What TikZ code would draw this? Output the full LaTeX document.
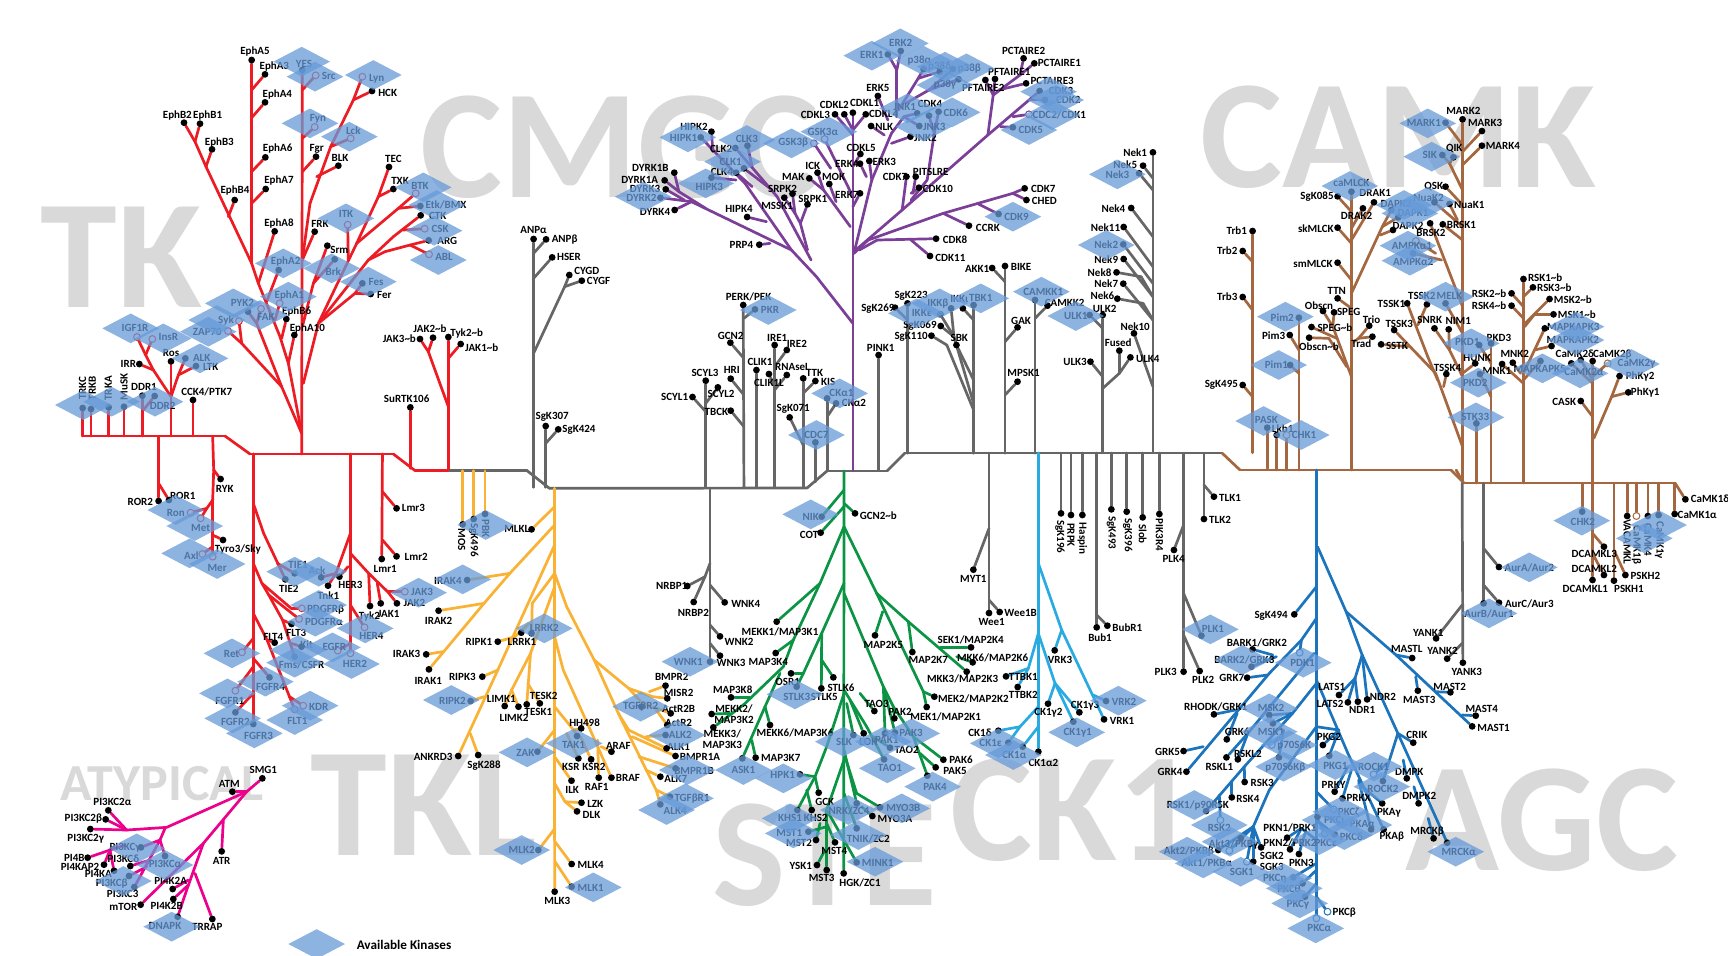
\documentclass[tikz,border=0pt]{standalone}
\usepackage{fontspec}
\setmainfont{Carlito}
\usetikzlibrary{shapes.geometric}
\definecolor{ctk}{HTML}{ED1C24}\definecolor{cgr}{HTML}{666666}\definecolor{cpu}{HTML}{7B3F98}
\definecolor{cbr}{HTML}{A5673F}\definecolor{cye}{HTML}{F9B233}\definecolor{cgn}{HTML}{0B9444}
\definecolor{cck}{HTML}{29ABE2}\definecolor{cag}{HTML}{1C75BC}\definecolor{cat}{HTML}{EC008C}
\definecolor{cwm}{HTML}{D9D9D9}\definecolor{cdi}{HTML}{679AD8}
\def\curcol{ctk}
\def\pno{1}
\tikzset{
 crop/.style n args={4}{shift={(#1,#2)},x=#3pt,y=-#4pt},
 kghost/.style={circle,inner sep=0pt,minimum size=3.4pt},
 kdot/.style={kghost,fill=black},
 kring/.style={kghost,fill=white,draw=\curcol,line width=.5pt},
 klab/.style={inner sep=0pt,align=center,font=\bfseries\fontsize{5.5}{5.6}\selectfont},
 avail/.style={diamond,fill=cdi,fill opacity=.75,inner sep=0pt,aspect=1.9,minimum width=28.5pt,minimum height=15pt},
 br/.style={draw=\curcol,line width=1.35pt,line cap=round,line join=round},
 wmark/.style={inner sep=0pt,anchor=base west,text=cwm,font=\bfseries\fontsize{77.5}{80}\selectfont},
}
\newcommand\gen[8]{\ifnum\pno=1 \node[kghost] (#2) at (#3,#4) {};\else\ifnum\pno=2 \node[#1] (#2) at (#3,#4) {};\node[klab,rotate=#7] (#2L) at (#5,#6) {#8};\fi\fi}
\newcommand\kin[6]{\gen{kdot}{#1}{#2}{#3}{#4}{#5}{0}{#6}}
\newcommand\kopn[6]{\gen{kring}{#1}{#2}{#3}{#4}{#5}{0}{#6}}
\newcommand\dia[3]{\ifnum\pno=3 \node[avail] (#1) at (#2,#3) {};\fi}
\newcommand\kav[8]{\kin{#1}{#2}{#3}{#6}{#7}{#8}\dia{#1D}{#4}{#5}}
\newcommand\kop[8]{\kopn{#1}{#2}{#3}{#6}{#7}{#8}\dia{#1D}{#4}{#5}}
\newcommand\krot[7]{\gen{kdot}{#1}{#2}{#3}{#4}{#5}{#6}{#7}}
\newcommand\krop[7]{\gen{kring}{#1}{#2}{#3}{#4}{#5}{#6}{#7}}
\newcommand\lnk[2]{\ifnum\pno=1 \draw[br] (#1) -- (#2);\fi}
\newcommand\jr[3]{\ifnum\pno=1 \coordinate (#1) at (#2,#3);\fi}
\newcommand\bto[3]{\jr{#1a}{#2}{#3}\lnk{#1}{#1a}}
\newcommand\jn[4]{\jr{#1}{#2}{#3}\lnk{#4}{#1}}
\newcommand\tl{\textasciitilde}
\newcommand\alldata{%
\begin{scope}[crop={40}{30}{.16667}{.16667}]
\jr{ra}{128}{1218}\jn{rb}{555}{1218}{ra}\jn{rc}{630}{1272}{rb}\jn{rd}{1060}{1272}{rc}
\end{scope}
\begin{scope}[crop={150}{440}{.17218}{.16667}]
\jn{rf}{770}{92}{rd}\jn{rg}{868}{92}{rf}
\def\curcol{cgr}\jn{ga}{1095}{92}{rg}\jn{gb}{1160}{145}{ga}
\end{scope}
\begingroup
\def\curcol{cgr}
\jn{gc}{807}{488}{gb}\jn{gd}{827}{471}{gc}\jn{ge}{887}{471}{gd}\jn{gf}{905}{453}{ge}\jn{gg}{1222}{453}{gf}
\def\curcol{cbr}
\jn{ba}{1240}{470}{gg}\jn{bb}{1451}{470}{ba}\jn{bc}{1464}{483}{bb}\jn{bd}{1675}{483}{bc}
\endgroup
\def\curcol{ctk}
\begin{scope}[crop={40}{30}{.16667}{.16667}]
\jr{t0}{785}{1272}
\kin{EphAv}{635}{90}{645}{65}{EphA5}
\kin{EphAc}{675}{133}{703}{108}{EphA3}\kin{EphAd}{675}{217}{712}{192}{EphA4}
\kin{EphBb}{432}{278}{412}{257}{EphB2}\kin{EphBa}{480}{281}{503}{257}{EphB1}\kin{EphBc}{516}{358}{538}{337}{EphB3}
\kin{EphAf}{676}{382}{713}{354}{EphA6}\kin{EphAg}{677}{477}{717}{452}{EphA7}\kin{EphBd}{584}{510}{585}{482}{EphB4}
\kin{EphAh}{704}{604}{717}{580}{EphA8}
\kav{YES}{787}{120}{785}{95}{792}{102}{YES}
\kop{Src}{827}{136}{825}{140}{866}{137}{Src}
\kop{Lyn}{967}{140}{1000}{135}{1010}{145}{Lyn}
\kin{HCK}{996}{183}{1043}{188}{HCK}
\kop{Fyn}{824}{291}{810}{280}{834}{265}{Fyn}
\kop{Lck}{932}{325}{928}{320}{940}{303}{Lck}
\kin{Fgr}{828}{380}{830}{356}{Fgr}\kin{BLK}{895}{407}{900}{385}{BLK}\kin{TEC}{1047}{411}{1060}{388}{TEC}\kin{TXK}{1060}{477}{1080}{452}{TXK}
\kop{BTK}{1127}{490}{1150}{472}{1140}{468}{BTK}
\kav{Etk}{1141}{528}{1190}{525}{1218}{524}{Etk/BMX}
\kin{CTK}{1142}{556}{1193}{559}{CTK}
\kop{CSK}{1154}{596}{1182}{602}{1200}{596}{CSK}
\kin{ARG}{1166}{631}{1222}{632}{ARG}
\kop{ABL}{1167}{673}{1195}{690}{1212}{681}{ABL}
\kop{ITK}{923}{584}{918}{565}{918}{552}{ITK}
\kin{FRK}{824}{605}{840}{583}{FRK}\kin{Srm}{862}{647}{898}{660}{Srm}
\kav{Brk}{884}{688}{875}{715}{880}{724}{Brk}
\kav{EphAb}{716}{720}{730}{700}{737}{695}{EphA2}
\kav{Fes}{967}{760}{985}{755}{1008}{757}{Fes}
\kin{Fer}{992}{792}{1033}{796}{Fer}
\kop{EphAa}{719}{820}{745}{800}{748}{797}{EphA1}
\kav{PYKb}{624}{845}{580}{820}{607}{820}{PYK2}
\kop{FAK}{663}{836}{660}{855}{678}{862}{FAK}
\kin{EphBf}{739}{867}{770}{843}{EphB6}\kin{EphAj}{763}{915}{802}{895}{EphA10}
\kop{Syk}{597}{873}{530}{870}{558}{870}{Syk}
\kop{ZAP}{564}{903}{505}{905}{502}{907}{ZAP70}
\kop{IGFR}{291}{921}{272}{895}{285}{895}{IGF1R}
\kop{InsR}{337}{927}{370}{925}{385}{921}{InsR}
\kin{IRR}{298}{1002}{265}{1003}{IRR}\kin{Ros}{393}{994}{393}{970}{Ros}
\kav{ALK}{436}{985}{480}{985}{485}{983}{ALK}
\kin{LTK}{468}{1008}{512}{1010}{LTK}\kin{DDRa}{307}{1097}{312}{1072}{DDR1}
\kav{DDRb}{344}{1098}{345}{1115}{368}{1128}{DDR2}
\kin{CCK}{459}{1110}{500}{1087}{CCK4/PTK7}
\krot{TRKC}{128}{1134}{128}{1075}{90}{TRKC}\krot{TRKB}{153}{1137}{157}{1075}{90}{TRKB}
\krot{TRKA}{206}{1132}{205}{1075}{90}{TRKA}\krot{MuSK}{252}{1130}{252}{1070}{90}{MuSK}
\dia{dTRKa}{130}{1125}\dia{dTRKb}{215}{1115}
\kin{SuRTK}{1111}{1132}{1100}{1105}{SuRTK106}
\kin{JAKcb}{1140}{927}{1078}{925}{JAK3\tl b}\kin{JAKbb}{1179}{923}{1170}{897}{JAK2\tl b}
\kin{Tykb}{1225}{921}{1280}{911}{Tyk2\tl b}\kin{JAKab}{1262}{942}{1325}{952}{JAK1\tl b}
\lnk{YES}{t0}\bto{Src}{787}{180}\bto{Fyn}{787}{325}\bto{Fgr}{787}{425}\bto{FRK}{787}{690}
\jr{t2}{787}{690}\jn{t3}{810}{520}{t2}\jn{t4}{872}{350}{t3}\jn{t5}{940}{210}{t4}\lnk{Lyn}{t5}\lnk{HCK}{t5}\bto{Lck}{872}{350}\bto{BLK}{830}{440}
\jr{t6}{787}{890}\jn{t7}{820}{760}{t6}\lnk{Srm}{t7}\lnk{Brk}{t7}
\jr{t8}{790}{1060}\jn{t9}{835}{880}{t8}\jn{t10}{950}{640}{t9}\jn{t11}{1015}{500}{t10}\lnk{TEC}{t11}\lnk{TXK}{t11}\bto{ITK}{925}{690}
\jn{t12}{1075}{535}{t10}\lnk{BTK}{t12}\lnk{Etk}{t12}
\jn{t13}{985}{690}{t9}\jn{t14}{1060}{620}{t13}\lnk{CTK}{t14}\bto{CSK}{1090}{600}
\jn{t15}{1035}{665}{t13}\jn{t16}{1110}{645}{t15}\lnk{ARG}{t16}\lnk{ABL}{t16}
\jn{t17}{945}{790}{t9}\lnk{Fes}{t17}\lnk{Fer}{t17}
\jr{t20}{785}{1210}\jn{t21}{745}{1000}{t20}\jn{t22}{720}{920}{t21}\jn{t23}{655}{760}{t22}\jn{t24}{635}{700}{t23}\jn{t25}{498}{410}{t24}
\lnk{EphAv}{t24}\bto{EphAc}{635}{180}\bto{EphAd}{635}{263}\bto{EphAf}{635}{425}\bto{EphAg}{635}{520}
\jn{t26}{465}{335}{t25}\lnk{EphBb}{t26}\lnk{EphBa}{t26}\lnk{EphBc}{t25}\bto{EphBd}{565}{560}
\lnk{EphAh}{t23}\bto{EphAb}{680}{815}\bto{EphAa}{705}{870}\bto{EphBf}{725}{925}\lnk{EphAj}{t21}
\jn{t30}{725}{1070}{t20}\jn{t31}{650}{880}{t30}\lnk{PYKb}{t31}\lnk{FAK}{t31}\jn{t32}{605}{940}{t30}\lnk{ZAP}{t32}\lnk{Syk}{t32}
\jr{t40}{393}{1218}\jn{t41}{393}{1100}{t40}\lnk{Ros}{t41}\jn{t42}{340}{1020}{t41}\jn{t43}{317}{975}{t42}\lnk{IGFR}{t43}\lnk{InsR}{t43}\lnk{IRR}{t42}
\jn{t44}{415}{1035}{t41}\lnk{ALK}{t44}\lnk{LTK}{t44}
\bto{TRKC}{128}{1218}\bto{TRKB}{153}{1218}\bto{TRKA}{206}{1218}\bto{MuSK}{252}{1218}\bto{DDRa}{307}{1218}\bto{DDRb}{310}{1140}\bto{CCK}{459}{1218}
\bto{SuRTK}{1111}{1315}
\jr{t50}{1225}{1318}\lnk{Tykb}{t50}\bto{JAKab}{1225}{985}\jn{t51}{1225}{1130}{t50}\jn{t52}{1165}{965}{t51}\lnk{JAKcb}{t52}\lnk{JAKbb}{t52}
\end{scope}
\begin{scope}[crop={150}{440}{.17218}{.16667}]
\kin{RORb}{25}{183}{-28}{185}{ROR2}\kin{RORa}{55}{180}{95}{167}{ROR1}\kin{RYK}{205}{117}{217}{148}{RYK}
\kop{Ron}{118}{218}{75}{210}{75}{220}{Ron}\kop{Met}{147}{235}{130}{258}{147}{265}{Met}
\kin{Tyro}{212}{300}{255}{327}{Tyro3/Sky}
\kop{Axl}{152}{342}{115}{340}{120}{347}{Axl}\kop{Mer}{182}{350}{195}{372}{195}{385}{Mer}
\jr{u0}{25}{-10}\jn{u1}{25}{130}{u0}\lnk{RORb}{u1}\lnk{RORa}{u1}
\jr{u2}{182}{-10}\jn{u3}{185}{90}{u2}\lnk{RYK}{u3}\jn{u4}{182}{180}{u3}\jn{u5}{165}{205}{u4}\lnk{Ron}{u5}\lnk{Met}{u5}\jn{u6}{182}{285}{u4}\lnk{Tyro}{u6}\jn{u7}{182}{320}{u6}\lnk{Axl}{u7}\lnk{Mer}{u7}
\kin{TIEb}{393}{418}{403}{447}{TIE2}\kav{TIEa}{420}{400}{420}{395}{430}{375}{TIE1}
\kav{Ack}{497}{412}{490}{395}{485}{392}{Ack}\kin{HERc}{550}{410}{582}{436}{HER3}\kin{Tnk}{517}{437}{518}{467}{Tnk1}
\kop{HERb}{582}{640}{585}{672}{595}{672}{HER2}\kop{EGFR}{545}{632}{530}{622}{535}{622}{EGFR}\kop{HERd}{623}{562}{625}{565}{643}{587}{HER4}
\kop{JAKc}{740}{455}{780}{458}{790}{455}{JAK3}\kin{JAKb}{717}{490}{768}{490}{JAK2}\kin{JAKa}{670}{490}{693}{522}{JAK1}\kin{Tykt}{639}{498}{637}{528}{Tyk2}
\kin{Lmra}{673}{357}{683}{387}{Lmr1}\kin{Lmrc}{716}{205}{765}{205}{Lmr3}\kin{Lmrb}{716}{349}{773}{352}{Lmr2}
\kop{Ret}{267}{637}{238}{640}{237}{643}{Ret}
\kop{FGFRa}{248}{752}{225}{760}{232}{782}{FGFR1}\kav{FGFRb}{248}{817}{240}{835}{248}{847}{FGFR2}
\kav{FGFRc}{300}{852}{303}{880}{315}{887}{FGFR3}\kav{FGFRd}{347}{712}{335}{725}{350}{742}{FGFR4}
\kop{PDGb}{441}{505}{490}{495}{510}{510}{PDGFRβ}\kop{PDGa}{433}{537}{480}{545}{505}{547}{PDGFRα}
\kin{FLTc}{411}{552}{425}{580}{FLT3}\kav{Kit}{440}{620}{430}{630}{455}{615}{Kit}\kav{Fms}{420}{650}{420}{668}{440}{674}{Fms/CSFR}
\kin{FLTd}{362}{608}{358}{590}{FLT4}\kop{KDR}{445}{797}{465}{797}{490}{802}{KDR}\kop{FLTa}{420}{808}{420}{840}{428}{842}{FLT1}
\jr{u10}{300}{42}\lnk{FGFRc}{u10}
\jn{u11}{300}{190}{u10}\jn{u12}{330}{280}{u11}\lnk{TIEb}{u12}\bto{TIEa}{370}{370}
\jr{u13}{582}{42}\lnk{HERb}{u13}\jr{u14}{582}{280}\jn{u15}{540}{400}{u14}\lnk{Tnk}{u15}\lnk{Ack}{u15}\bto{HERc}{575}{380}
\jr{u16}{582}{340}\jn{u17}{635}{400}{u16}\jn{u18}{690}{455}{u17}\lnk{JAKc}{u18}\lnk{JAKb}{u18}\bto{JAKa}{660}{430}\lnk{Tykt}{u17}
\bto{HERd}{582}{495}\bto{EGFR}{582}{610}
\jr{u19}{675}{42}\lnk{Lmra}{u19}\bto{Lmrc}{675}{155}\bto{Lmrb}{675}{300}
\bto{Ret}{300}{595}\bto{FGFRa}{300}{680}\bto{FGFRb}{300}{760}\bto{FGFRd}{300}{655}
\jr{u20}{300}{370}\jn{u21}{325}{430}{u20}\jn{u22}{410}{505}{u21}\lnk{PDGb}{u22}\jn{u23}{345}{465}{u21}\lnk{PDGa}{u23}
\jn{u24}{385}{540}{u23}\lnk{FLTc}{u24}\jn{u25}{420}{650}{u24}\bto{Kit}{410}{610}\lnk{Fms}{u25}
\jr{u26}{300}{520}\jn{u27}{340}{600}{u26}\jn{u28}{405}{770}{u27}\lnk{KDR}{u28}\lnk{FLTa}{u28}\lnk{FLTd}{u27}
\def\curcol{cye}
\krot{MOS}{908}{253}{905}{300}{-90}{MOS}\krot{SgKhg}{940}{237}{940}{300}{-90}{SgK496}\krot{PBK}{973}{222}{975}{265}{-90}{PBK}\dia{dPBK}{975}{255}
\bto{MOS}{908}{92}\bto{SgKhg}{940}{92}\bto{PBK}{973}{92}
\kin{MLKL}{1108}{268}{1065}{268}{MLKL}
\kav{IRAKd}{921}{420}{908}{418}{865}{422}{IRAK4}\kin{IRAKb}{838}{512}{838}{542}{IRAK2}\kin{IRAKc}{802}{643}{745}{643}{IRAK3}\kin{IRAKa}{810}{688}{808}{722}{IRAK1}
\kin{ANK}{895}{948}{822}{950}{ANKRD3}\kin{SgKbe}{953}{945}{970}{977}{SgK288}\kin{RIPc}{965}{710}{907}{710}{RIPK3}
\kav{RIPb}{931}{783}{875}{780}{878}{783}{RIPK2}\kin{RIPa}{1010}{605}{955}{605}{RIPK1}\kin{LRRa}{1078}{578}{1080}{607}{LRRK1}
\kav{LRRb}{1108}{580}{1145}{565}{1145}{565}{LRRK2}
\kin{LIMa}{1030}{798}{1020}{778}{LIMK1}\kin{LIMb}{1070}{800}{1057}{833}{LIMK2}\kin{TESb}{1132}{790}{1143}{767}{TESK2}\kin{TESa}{1094}{793}{1128}{815}{TESK1}
\kin{BMPRb}{1497}{737}{1515}{711}{BMPR2}\kin{MISR}{1502}{775}{1535}{760}{MISR2}\kav{TGFb}{1427}{800}{1425}{800}{1425}{800}{TGFβR2}
\kin{ActB}{1512}{820}{1535}{808}{ActR2B}\kin{ActR}{1502}{855}{1535}{848}{ActR2}\kav{ALKb}{1497}{885}{1530}{885}{1540}{885}{ALK2}
\kin{ALKa}{1500}{925}{1535}{922}{ALK1}\kin{BMPa}{1526}{948}{1597}{951}{BMPR1A}\kav{BMPc}{1526}{985}{1560}{990}{1580}{994}{BMPR1B}
\kin{ALKg}{1482}{1010}{1527}{1018}{ALK7}\kav{TGFa}{1510}{1070}{1555}{1075}{1574}{1077}{TGFβR1}\kav{ALKd}{1482}{1093}{1500}{1110}{1525}{1112}{ALK4}
\kin{HH}{1252}{865}{1262}{847}{HH498}\kin{ARAF}{1340}{935}{1360}{918}{ARAF}\kin{BRAF}{1340}{1013}{1388}{1015}{BRAF}\kin{RAF}{1303}{1013}{1297}{1040}{RAF1}
\kin{KSR}{1244}{955}{1222}{982}{KSR}\kin{KSRb}{1281}{958}{1289}{982}{KSR2}\kav{TAK}{1240}{888}{1232}{910}{1230}{915}{TAK1}
\kav{ZAK}{1125}{935}{1095}{937}{1090}{938}{ZAK}\kin{ILK}{1224}{1022}{1226}{1050}{ILK}\kin{LZK}{1253}{1088}{1293}{1092}{LZK}\kin{DLK}{1240}{1114}{1282}{1124}{DLK}
\jr{y0}{1175}{145}\jn{y1}{1175}{1200}{y0}
\bto{MLKL}{1175}{200}
\jr{y2}{1175}{255}\jn{y3}{1045}{400}{y2}\jn{y4}{970}{490}{y3}\lnk{IRAKa}{y4}\lnk{IRAKd}{y3}\lnk{IRAKb}{y4}\bto{IRAKc}{850}{635}
\jr{y5}{1175}{315}\jn{y6}{1010}{690}{y5}\lnk{ANK}{y6}\bto{SgKbe}{930}{880}\lnk{RIPc}{y6}\bto{RIPb}{970}{770}
\jr{y7}{1175}{400}\jn{y8}{1110}{490}{y7}\lnk{LRRb}{y8}\jr{y9}{1100}{550}\jn{y10}{1060}{590}{y9}\lnk{RIPa}{y10}\bto{LRRa}{1095}{555}
\jr{y11}{1175}{440}\jn{y12}{1105}{640}{y11}\lnk{TESa}{y12}\bto{TESb}{1097}{730}\jn{y13}{1050}{750}{y12}\lnk{LIMa}{y13}\lnk{LIMb}{y13}
\jn{y14}{1210}{500}{y7}\jn{y15}{1290}{660}{y14}\jn{y16}{1390}{745}{y15}\jn{y17}{1460}{770}{y16}\lnk{MISR}{y17}\bto{BMPRb}{1450}{755}
\jn{y18}{1430}{790}{y16}\lnk{ActB}{y18}\lnk{TGFb}{y18}\bto{ActR}{1470}{810}
\jn{y19}{1360}{820}{y15}\jn{y20}{1470}{1050}{y19}\lnk{ALKd}{y20}\lnk{TGFa}{y20}\bto{ALKg}{1440}{990}
\jn{y21}{1390}{870}{y19}\lnk{ALKa}{y21}\bto{ALKb}{1440}{890}\jr{y22}{1400}{890}\lnk{BMPa}{y22}\bto{BMPc}{1420}{950}
\jr{y30}{1175}{590}\jn{y31}{1200}{690}{y30}\jn{y32}{1270}{850}{y31}\lnk{BRAF}{y32}\bto{RAF}{1300}{900}\bto{ARAF}{1310}{920}
\jr{y33}{1175}{800}\jn{y34}{1230}{870}{y33}\lnk{TAK}{y34}\lnk{HH}{y34}\bto{ZAK}{1175}{870}\bto{KSR}{1210}{880}\bto{KSRb}{1250}{890}
\bto{ILK}{1175}{950}\jr{y35}{1175}{1030}\jn{y36}{1205}{1085}{y35}\lnk{LZK}{y36}\lnk{DLK}{y36}
\end{scope}
\begin{scope}[crop={480}{800}{.16667}{.16667}]
\def\curcol{cye}
\kin{MLKc}{224}{275}{232}{303}{MLK3}\kav{MLKb}{175}{150}{125}{150}{125}{150}{MLK2}
\kin{MLKd}{275}{192}{332}{195}{MLK4}\kav{MLKa}{275}{260}{340}{262}{332}{263}{MLK1}
\lnk{MLKc}{y1}\bto{MLKb}{225}{85}\bto{MLKd}{225}{125}\bto{MLKa}{225}{185}
\end{scope}
\begin{scope}[crop={520}{20}{.17857}{.16667}]
\def\curcol{cpu}
\kav{ERKa}{1030}{103}{985}{107}{985}{104}{ERK1}\kav{ERKb}{1066}{93}{1065}{70}{1066}{69}{ERK2}
\kav{pa}{1130}{147}{1130}{122}{1118}{122}{p38α}\kav{pd}{1175}{155}{1190}{140}{1175}{140}{p38δ}\kav{pb}{1212}{147}{1250}{145}{1258}{145}{p38β}\kav{pg}{1228}{178}{1190}{195}{1190}{195}{p38γ}
\kin{ERKe}{1002}{228}{1002}{205}{ERK5}
\kin{CDKLb}{908}{283}{880}{255}{CDKL2}\kin{CDKLc}{882}{283}{827}{285}{CDKL3}\kin{CDKLa}{932}{278}{965}{250}{CDKL1}\kin{CDKLd}{968}{283}{1018}{283}{CDKL4}
\kin{NLK}{983}{318}{1020}{320}{NLK}
\kav{JNKa}{1112}{280}{1085}{265}{1077}{262}{JNK1}\kin{CDKd}{1145}{287}{1148}{253}{CDK4}\kav{CDKf}{1172}{275}{1210}{277}{1220}{277}{CDK6}
\kav{JNKc}{1118}{318}{1130}{320}{1160}{320}{JNK3}\kin{JNKb}{1093}{350}{1135}{355}{JNK2}
\kin{PCTb}{1410}{115}{1410}{92}{PCTAIRE2}\kin{PCTa}{1440}{130}{1510}{130}{PCTAIRE1}\kin{PFTa}{1330}{177}{1370}{157}{PFTAIRE1}\kin{PFTb}{1303}{180}{1297}{205}{PFTAIRE2}
\kin{PCTc}{1417}{190}{1490}{183}{PCTAIRE3}\kav{CDKc}{1455}{213}{1480}{215}{1515}{213}{CDK3}\kav{CDKb}{1470}{240}{1500}{240}{1535}{241}{CDK2}
\kop{CDCb}{1425}{283}{1490}{285}{1510}{285}{CDC2/CDK1}\kav{CDKe}{1380}{322}{1425}{330}{1430}{330}{CDK5}
\kin{HIPb}{536}{335}{487}{322}{HIPK2}\kav{HIPa}{506}{352}{470}{352}{458}{354}{HIPK1}
\kav{CLKc}{637}{377}{635}{360}{635}{357}{CLK3}\kin{CLKb}{603}{384}{563}{388}{CLK2}\kav{CLKa}{627}{445}{595}{425}{590}{425}{CLK1}\kin{CLKd}{605}{458}{565}{456}{CLK4}
\kav{HIPc}{536}{473}{520}{490}{530}{500}{HIPK3}
\kop{GSKb}{823}{370}{760}{370}{765}{368}{GSK3β}\kop{GSKa}{853}{357}{865}{335}{848}{335}{GSK3α}
\kin{DYRb}{432}{458}{365}{443}{DYRK1B}\kin{DYRa}{405}{481}{335}{481}{DYRK1A}\kin{DYRc}{408}{508}{350}{507}{DYRK3}\kav{DYRd}{393}{533}{345}{530}{340}{534}{DYRK2}\kin{DYRe}{433}{570}{378}{575}{DYRK4}
\kin{CDKLe}{953}{402}{955}{384}{CDKL5}\kin{ERKd}{952}{431}{915}{432}{ERK4}\kin{ERKc}{978}{423}{1020}{427}{ERK3}\kin{ICK}{833}{458}{820}{437}{ICK}\kin{MAK}{810}{475}{765}{472}{MAK}\kin{MOK}{866}{492}{878}{472}{MOK}
\kin{CDKq}{1082}{470}{1050}{472}{CDK7}\kin{PITS}{1108}{470}{1150}{456}{PITSLRE}\kin{CDKj}{1117}{503}{1170}{507}{CDK10}\kin{ERKg}{952}{520}{915}{525}{ERK7}
\kin{SRPb}{740}{533}{735}{507}{SRPK2}\kin{MSSK}{763}{521}{720}{558}{MSSK1}\kin{SRPa}{805}{553}{820}{537}{SRPK1}\kin{HIPd}{636}{591}{613}{568}{HIPK4}\kin{PRP}{670}{674}{620}{676}{PRP4}
\kin{CDKg}{1413}{505}{1465}{507}{CDK7}\kin{CHED}{1418}{540}{1468}{543}{CHED}\kav{CDKi}{1340}{582}{1380}{590}{1390}{590}{CDK9}\kin{CCRK}{1257}{617}{1310}{623}{CCRK}\kin{CDKh}{1165}{656}{1218}{660}{CDK8}\kin{CDKk}{1148}{708}{1205}{714}{CDK11}
\jr{p0}{932}{1350}\lnk{CDKLa}{p0}
\bto{CDKLb}{932}{330}\bto{CDKLc}{932}{345}\bto{CDKLd}{932}{330}\bto{CDKLe}{932}{440}\bto{ERKg}{932}{560}
\jr{p1}{935}{700}\jn{p2}{975}{660}{p1}\jn{p3}{1185}{580}{p2}\jn{p4}{1380}{520}{p3}\lnk{CDKg}{p4}\lnk{CHED}{p4}\bto{CDKi}{1285}{553}\lnk{CCRK}{p3}
\jr{p5}{950}{690}\jn{p6}{1000}{660}{p5}\lnk{CDKh}{p6}\bto{CDKk}{1095}{660}
\jr{p7}{940}{690}\jn{p8}{1070}{570}{p7}\jn{p9}{1310}{345}{p8}\jn{p10}{1325}{225}{p9}\lnk{CDKc}{p9}\bto{CDCb}{1380}{290}\bto{CDKe}{1345}{320}\bto{CDKb}{1425}{240}
\lnk{PFTa}{p10}\lnk{PFTb}{p10}\jn{p11}{1400}{165}{p10}\lnk{PCTa}{p11}\lnk{PCTb}{p11}\bto{PCTc}{1340}{210}
\lnk{CDKq}{p8}\bto{PITS}{1100}{520}\bto{CDKj}{1095}{520}\jr{p12}{1095}{540}\jn{p13}{1140}{480}{p12}\jn{p14}{1160}{340}{p13}\lnk{CDKf}{p14}\lnk{CDKd}{p14}
\jr{p20}{935}{700}\jn{p21}{985}{480}{p20}\jn{p22}{1040}{340}{p21}\jn{p23}{1075}{290}{p22}\lnk{JNKa}{p23}\bto{JNKb}{1040}{370}\lnk{JNKc}{p23}
\lnk{ERKc}{p21}\bto{ERKd}{970}{470}\jr{p24}{1055}{290}\jn{p25}{1055}{150}{p24}\lnk{ERKa}{p25}\lnk{ERKb}{p25}\bto{ERKe}{1030}{300}\bto{NLK}{1020}{345}
\jr{p26}{1060}{270}\jn{p27}{1115}{175}{p26}\lnk{pa}{p27}\lnk{pd}{p27}\jr{p28}{1080}{250}\jn{p29}{1145}{210}{p28}\lnk{pb}{p29}\lnk{pg}{p29}
\jr{p30}{932}{530}\lnk{GSKa}{p30}\bto{GSKb}{870}{445}
\jr{p31}{925}{620}\jn{p32}{850}{510}{p31}\lnk{MAK}{p32}\lnk{ICK}{p32}\bto{MOK}{885}{545}
\jr{p40}{932}{910}\jn{p41}{830}{770}{p40}\jn{p42}{760}{690}{p41}\jn{p43}{480}{545}{p42}\lnk{DYRd}{p43}\lnk{DYRe}{p43}
\jr{p44}{520}{565}\jn{p45}{445}{515}{p44}\lnk{DYRb}{p45}\lnk{DYRa}{p45}\bto{DYRc}{460}{540}\bto{PRP}{700}{670}\bto{HIPd}{690}{605}
\jn{p46}{630}{490}{p42}\lnk{HIPa}{p46}\bto{HIPb}{540}{395}\bto{HIPc}{605}{480}
\jr{p47}{815}{720}\jn{p48}{720}{530}{p47}\lnk{CLKb}{p48}\bto{CLKc}{650}{440}\bto{CLKa}{700}{505}\bto{CLKd}{650}{500}
\jr{p49}{805}{690}\jn{p50}{785}{610}{p49}\lnk{SRPa}{p50}\jn{p51}{770}{580}{p50}\lnk{MSSK}{p51}\lnk{SRPb}{p51}
\def\curcol{cgr}
\kin{ANPa}{38}{657}{38}{630}{ANPα}\kin{ANPb}{73}{658}{125}{660}{ANPβ}\kin{HSER}{90}{712}{137}{712}{HSER}\kin{CYGD}{138}{765}{187}{752}{CYGD}\kin{CYGF}{173}{782}{220}{782}{CYGF}
\jr{g0}{38}{1402}\lnk{ANPa}{g0}\bto{ANPb}{38}{700}\bto{HSER}{38}{775}\jr{g1}{38}{1000}\jn{g2}{125}{800}{g1}\lnk{CYGD}{g2}\lnk{CYGF}{g2}
\kin{SgKcz}{72}{1218}{90}{1190}{SgK307}\kin{SgKdx}{107}{1228}{165}{1228}{SgK424}\bto{SgKcz}{72}{1402}\bto{SgKdx}{72}{1270}
\kin{SCYa}{483}{1131}{433}{1131}{SCYL1}\kin{SCYc}{520}{1082}{518}{1058}{SCYL3}\kin{SCYb}{554}{1102}{563}{1122}{SCYL2}\kin{TBCK}{590}{1172}{550}{1175}{TBCK}\kin{HRI}{590}{1076}{593}{1050}{HRI}
\bto{SCYc}{520}{1402}\bto{SCYa}{520}{1175}\bto{SCYb}{520}{1150}
\kin{PERK}{625}{855}{640}{832}{PERK/PEK}\kav{PKR}{658}{868}{695}{870}{700}{870}{PKR}\kin{GCNb}{589}{968}{590}{948}{GCN2}
\bto{PERK}{627}{1402}\bto{PKR}{627}{895}\bto{GCNb}{627}{1015}\bto{HRI}{627}{1125}\bto{TBCK}{627}{1220}
\kin{CLIKa}{662}{1050}{672}{1027}{CLIK1}\kin{CLIKb}{697}{1062}{697}{1090}{CLIK1L}\kin{RNAse}{747}{1065}{763}{1040}{RNAseL}\kin{IREa}{713}{975}{720}{955}{IRE1}\kin{IREb}{747}{990}{775}{972}{IRE2}
\bto{CLIKa}{662}{1402}\bto{IREa}{713}{1402}\bto{CLIKb}{713}{1100}\bto{RNAse}{713}{1110}\bto{IREb}{713}{1040}
\kin{TTK}{793}{1075}{825}{1060}{TTK}\kin{KIS}{827}{1083}{863}{1087}{KIS}\kin{SgKah}{755}{1192}{765}{1167}{SgK071}
\bto{TTK}{793}{1402}\bto{KIS}{793}{1120}\bto{SgKah}{793}{1275}
\kav{CDCg}{827}{1267}{830}{1245}{830}{1245}{CDC7}\bto{CDCg}{827}{1385}
\kav{CKaa}{860}{1135}{895}{1120}{900}{1120}{CKα1}\kin{CKab}{885}{1150}{935}{1150}{CKα2}\bto{CKaa}{860}{1350}\bto{CKab}{860}{1190}
\kin{PINK}{1004}{1005}{1010}{985}{PINK1}\bto{PINK}{1004}{1350}
\kin{SgKbj}{1050}{863}{1002}{865}{SgK269}\kin{SgKbc}{1085}{850}{1095}{827}{SgK223}\bto{SgKbc}{1085}{1300}\bto{SgKbj}{1085}{900}
\kav{IKKb}{1207}{865}{1175}{850}{1170}{850}{IKKβ}\kav{IKKe}{1177}{883}{1110}{880}{1125}{880}{IKKε}\kav{TBK}{1270}{855}{1290}{835}{1290}{835}{TBK1}\kin{IKKg}{1240}{865}{1230}{838}{IKKι}
\kin{SgKag}{1178}{918}{1120}{918}{SgK069}\kin{SgKaj}{1152}{947}{1095}{950}{SgK110}\kin{SBK}{1222}{975}{1230}{953}{SBK}
\bto{TBK}{1270}{1300}\jr{g3}{1270}{1150}\jn{g4}{1215}{950}{g3}\lnk{IKKb}{g4}\lnk{IKKe}{g4}\lnk{SgKag}{g4}\bto{IKKg}{1270}{900}
\jr{g5}{1270}{1170}\jn{g6}{1195}{975}{g5}\lnk{SgKaj}{g6}\bto{SBK}{1270}{1080}
\kin{AKK}{1322}{744}{1280}{748}{AKK1}\kin{BIKE}{1358}{738}{1403}{742}{BIKE}\bto{BIKE}{1358}{1300}\bto{AKK}{1358}{785}
\kin{GAK}{1393}{922}{1403}{902}{GAK}\bto{GAK}{1358}{965}\kin{MPSK}{1393}{1085}{1410}{1060}{MPSK1}\bto{MPSK}{1358}{1125}
\kav{CAMKKa}{1442}{840}{1460}{815}{1465}{815}{CAMKK1}\kin{CAMKKb}{1477}{857}{1525}{850}{CAMKK2}\bto{CAMKKa}{1442}{1300}\bto{CAMKKb}{1442}{895}
\end{scope}
\begin{scope}[crop={1060}{80}{.19771}{.16667}]
\def\curcol{cgr}
\kin{Neka}{235}{217}{190}{218}{Nek1}\kin{Neke}{210}{257}{165}{253}{Nek5}\kav{Nekc}{200}{280}{145}{283}{145}{283}{Nek3}
\kin{Nekd}{180}{384}{135}{386}{Nek4}\kin{Nekk}{161}{441}{115}{443}{Nek11}\kav{Nekb}{160}{493}{117}{495}{117}{495}{Nek2}
\kin{Neki}{161}{537}{117}{538}{Nek9}\kin{Nekh}{143}{577}{100}{578}{Nek8}\kin{Nekg}{160}{611}{117}{611}{Nek7}\kin{Nekf}{145}{656}{107}{647}{Nek6}\kin{Nekj}{187}{760}{190}{740}{Nek10}
\jr{n0}{235}{1118}\lnk{Neka}{n0}\bto{Neke}{235}{295}\bto{Nekc}{235}{330}\bto{Nekd}{235}{470}\bto{Nekk}{235}{560}\bto{Nekb}{235}{610}\bto{Neki}{235}{650}
\jr{n1}{205}{590}\lnk{Nekh}{n1}\jr{n2}{235}{650}\lnk{n1}{n2}\bto{Nekg}{235}{720}\jr{n3}{210}{670}\lnk{Nekf}{n3}\jr{n4}{235}{720}\lnk{n3}{n4}\bto{Nekj}{235}{920}
\kin{ULKb}{108}{705}{113}{687}{ULK2}\kav{ULKa}{75}{705}{40}{708}{40}{707}{ULK1}\kin{ULKc}{77}{845}{38}{845}{ULK3}\kin{Fused}{150}{812}{147}{788}{Fused}\kin{ULKd}{178}{832}{222}{838}{ULK4}
\bto{ULKb}{108}{1118}\bto{ULKa}{108}{745}\bto{ULKc}{108}{890}\jr{n5}{108}{925}\jn{n6}{150}{880}{n5}\lnk{ULKd}{n6}\lnk{Fused}{n6}
\def\curcol{cbr}
\kin{Trba}{487}{453}{447}{453}{Trb1}\kin{Trbb}{462}{513}{423}{513}{Trb2}\kin{Trbc}{462}{651}{423}{651}{Trb3}\kin{SgKdh}{462}{915}{408}{915}{SgK495}
\bto{Trba}{487}{1118}\bto{Trbb}{487}{545}\bto{Trbc}{487}{690}\bto{SgKdh}{487}{950}
\kav{PASK}{524}{1043}{515}{1023}{522}{1020}{PASK}\kin{Lkb}{548}{1065}{563}{1045}{Lkb1}\kop{CHKa}{573}{1065}{610}{1065}{617}{1065}{CHK1}
\bto{PASK}{524}{1165}\bto{Lkb}{548}{1170}\bto{CHKa}{573}{1170}
\kav{Pimb}{604}{713}{570}{710}{562}{712}{Pim2}\kin{Pimc}{581}{765}{540}{767}{Pim3}\kav{Pima}{582}{855}{553}{855}{547}{855}{Pim1}
\bto{Pimb}{604}{1170}\bto{Pimc}{604}{810}\bto{Pima}{604}{880}
\kav{caML}{737}{335}{733}{318}{737}{310}{caMLCK}\kin{SgKdf}{702}{349}{650}{351}{SgK085}\kin{DRAKa}{794}{367}{797}{340}{DRAK1}\kin{DRAKb}{766}{385}{750}{408}{DRAK2}
\kin{skML}{702}{443}{647}{445}{skMLCK}\kin{smML}{702}{548}{640}{551}{smMLCK}\kin{TTN}{702}{655}{700}{634}{TTN}
\kin{Obs}{665}{693}{655}{678}{Obscn}\kin{SPEG}{693}{697}{730}{695}{SPEG}\kin{SPEGb}{636}{741}{695}{744}{SPEG\tl b}\kin{Obsb}{630}{773}{655}{800}{Obscn\tl b}
\kin{Trio}{782}{737}{788}{718}{Trio}\kin{Trad}{790}{770}{762}{792}{Trad}\kin{SSTK}{812}{793}{852}{797}{SSTK}
\kav{DAPc}{838}{390}{870}{375}{850}{372}{DAPK3}\kav{DAPa}{855}{412}{885}{400}{893}{398}{DAPK1}\kin{DAPb}{842}{450}{880}{437}{DAPK2}
\bto{caML}{737}{1170}\bto{SgKdf}{737}{395}\bto{DRAKb}{737}{445}\bto{DRAKa}{737}{480}\bto{skML}{737}{490}\bto{smML}{737}{600}\bto{TTN}{737}{685}
\jr{c1}{737}{640}\jn{c2}{815}{440}{c1}\lnk{DAPc}{c2}\lnk{DAPa}{c2}\bto{DAPb}{810}{465}
\jr{c3}{737}{890}\jn{c4}{690}{740}{c3}\lnk{Obs}{c4}\lnk{SPEG}{c4}\bto{SPEGb}{700}{775}\jr{c5}{680}{775}\lnk{Obsb}{c5}\jr{c6}{725}{860}\lnk{c5}{c6}
\jr{c7}{737}{790}\jn{c8}{755}{775}{c7}\lnk{Trio}{c8}\lnk{Trad}{c8}
\kin{MARKb}{1018}{118}{1020}{93}{MARK2}\kin{MARKc}{1067}{153}{1075}{128}{MARK3}\kin{MARKd}{1067}{197}{1120}{197}{MARK4}\kav{MARKa}{975}{128}{930}{130}{920}{130}{MARK1}
\kin{QIK}{995}{232}{997}{205}{QIK}\kav{SIK}{967}{225}{940}{230}{935}{225}{SIK}\kin{QSK}{975}{320}{945}{320}{QSK}
\kav{NuaKb}{947}{367}{930}{365}{932}{355}{NuaK2}\kin{NuaKa}{985}{372}{1035}{374}{NuaK1}\kin{BRSKa}{968}{433}{1015}{435}{BRSK1}\kin{BRSKb}{936}{430}{938}{460}{BRSK2}
\kop{AMPa}{900}{483}{880}{497}{890}{497}{AMPKα1}\kav{AMPb}{893}{520}{885}{542}{893}{545}{AMPKα2}
\jr{c10}{1018}{1205}\lnk{MARKb}{c10}\jn{c11}{1002}{1170}{c10}
\bto{MARKc}{1018}{215}\bto{MARKd}{1018}{255}\bto{MARKa}{1018}{195}\jr{c12}{1018}{330}\jn{c13}{985}{250}{c12}\lnk{SIK}{c13}\lnk{QIK}{c13}
\bto{QSK}{1018}{375}\bto{NuaKb}{1018}{440}\bto{NuaKa}{1005}{420}\bto{BRSKa}{1018}{480}
\jr{c14}{1018}{680}\jn{c15}{950}{470}{c14}\lnk{BRSKb}{c15}\jr{c16}{965}{540}\lnk{AMPb}{c16}\bto{AMPa}{950}{520}
\kav{MELK}{975}{670}{975}{650}{985}{648}{MELK}\kin{TSSKb}{928}{673}{915}{648}{TSSK2}\kin{TSSKa}{878}{670}{838}{672}{TSSK1}\kin{TSSKc}{845}{750}{858}{733}{TSSK3}\kin{SNRK}{947}{745}{935}{720}{SNRK}\kin{NIM}{983}{748}{1007}{723}{NIM1}\kin{TSSKd}{977}{882}{980}{863}{TSSK4}\kin{HUNK}{1050}{850}{1055}{833}{HUNK}
\kav{PKDa}{1060}{795}{1040}{790}{1030}{787}{PKD1}\kin{PKDc}{1090}{790}{1110}{773}{PKD3}\kav{PKDb}{1062}{882}{1058}{908}{1050}{910}{PKD2}\kav{STK}{1053}{1030}{1052}{1012}{1050}{1012}{STK33}
\bto{MELK}{1018}{760}\bto{HUNK}{1018}{880}\bto{STK}{1053}{1209}\bto{PKDc}{1090}{1209}\bto{PKDa}{1090}{850}\bto{PKDb}{1090}{950}
\jr{c20}{1018}{1100}\jn{c21}{950}{880}{c20}\lnk{TSSKc}{c21}\bto{SSTK}{880}{800}\bto{TSSKd}{970}{920}\jr{c22}{955}{900}\jn{c23}{930}{830}{c22}\lnk{TSSKa}{c23}\bto{TSSKb}{905}{735}
\jr{c24}{1018}{890}\jn{c25}{985}{810}{c24}\lnk{SNRK}{c25}\lnk{NIM}{c25}
\kin{RSKab}{1172}{597}{1227}{592}{RSK1\tl b}\kin{RSKcb}{1196}{622}{1250}{622}{RSK3\tl b}\kin{RSKbb}{1142}{640}{1085}{641}{RSK2\tl b}\kin{RSKdb}{1142}{677}{1085}{677}{RSK4\tl b}\kin{MSKbb}{1238}{657}{1297}{660}{MSK2\tl b}\kin{MSKab}{1248}{703}{1307}{704}{MSK1\tl b}
\kav{MAPc}{1226}{745}{1305}{740}{1298}{742}{MAPKAPK3}\kav{MAPb}{1243}{798}{1305}{780}{1297}{780}{MAPKAPK2}\kav{MAPke}{1215}{843}{1220}{865}{1213}{868}{MAPKAPK5}\kin{MNKb}{1118}{852}{1150}{823}{MNK2}\kin{MNKa}{1145}{848}{1105}{872}{MNK1}
\bto{RSKab}{1172}{1209}\bto{RSKcb}{1172}{650}\bto{RSKbb}{1172}{680}\bto{RSKdb}{1172}{715}\bto{MSKbb}{1172}{735}\jr{c30}{1200}{703}\lnk{MSKab}{c30}\jr{c31}{1175}{740}\lnk{c30}{c31}
\jr{c32}{1172}{880}\jn{c33}{1200}{810}{c32}\lnk{MAPc}{c33}\lnk{MAPb}{c33}\bto{MAPke}{1172}{900}\bto{MNKb}{1172}{910}\bto{MNKa}{1165}{880}
\kin{CaMKbd}{1293}{850}{1302}{822}{CaMK2δ}\kav{CaMKba}{1317}{840}{1315}{880}{1325}{877}{CaMK2α}\kin{CaMKbb}{1347}{843}{1397}{823}{CaMK2β}\kop{CaMKbg}{1385}{850}{1445}{852}{1458}{852}{CaMK2γ}
\kin{CASK}{1317}{963}{1275}{965}{CASK}\kin{PhKb}{1415}{888}{1467}{890}{PhKγ2}\kin{PhKa}{1437}{937}{1480}{937}{PhKγ1}
\bto{CaMKbb}{1347}{1209}\bto{CaMKbd}{1347}{910}\bto{CaMKba}{1347}{900}\bto{CaMKbg}{1347}{890}\bto{CASK}{1347}{1010}\jr{c40}{1350}{1075}\jn{c41}{1395}{950}{c40}\lnk{PhKb}{c41}\lnk{PhKa}{c41}
\end{scope}
\begin{scope}[crop={680}{460}{.16667}{.16667}]
\def\curcol{cgr}
\kin{NRBa}{22}{378}{-25}{378}{NRBP1}\kin{NRBb}{41}{426}{40}{460}{NRBP2}\kin{WNKd}{134}{427}{197}{432}{WNK4}\kin{WNKb}{120}{529}{177}{547}{WNK2}\kin{WNKc}{120}{587}{153}{608}{WNK3}\kav{WNKa}{90}{605}{30}{605}{25}{605}{WNK1}
\bto{WNKa}{90}{85}\bto{WNKd}{90}{375}\bto{WNKb}{90}{495}\bto{WNKc}{90}{550}\jr{w1}{90}{310}\jn{w2}{75}{350}{w1}\lnk{NRBa}{w2}\lnk{NRBb}{w2}
\kin{MYT}{880}{329}{880}{357}{MYT1}\kin{Weea}{927}{459}{935}{487}{Wee1}\kin{Weeb}{959}{456}{1022}{460}{Wee1B}\bto{Weea}{927}{-21}\bto{MYT}{927}{205}\bto{Weeb}{927}{420}
\krot{SgKao}{1143}{160}{1140}{230}{-90}{SgK196}\krot{PRPK}{1173}{165}{1173}{225}{-90}{PRPK}\krot{Hasp}{1207}{165}{1207}{235}{-90}{Haspin}\krot{SgKdd}{1294}{148}{1294}{218}{-90}{SgK493}\krot{SgKcf}{1340}{155}{1343}{225}{-90}{SgK396}\krot{Slob}{1388}{172}{1388}{222}{-90}{Slob}\krot{PIK}{1438}{162}{1438}{225}{-90}{PIK3R4}
\bto{SgKao}{1143}{-21}\bto{PRPK}{1173}{-21}\bto{Hasp}{1207}{-21}\bto{SgKdd}{1294}{-21}\bto{SgKcf}{1340}{-21}\bto{Slob}{1388}{-21}\bto{PIK}{1438}{-21}
\kin{Buba}{1250}{502}{1260}{533}{Bub1}\kin{Bubb}{1282}{497}{1342}{502}{BubR1}\bto{Buba}{1250}{-21}\bto{Bubb}{1250}{465}
\def\curcol{cgn}
\kav{NIK}{425}{170}{392}{163}{392}{170}{NIK}\kin{COT}{422}{218}{387}{225}{COT}\kin{GCNbb}{525}{160}{595}{167}{GCN2\tl b}\kin{HGK}{491}{1240}{540}{1270}{HGK/ZC1}
\bto{HGK}{492}{33}\bto{NIK}{492}{90}\bto{COT}{492}{140}\bto{GCNbb}{492}{130}
\kin{MEKKa}{290}{485}{300}{515}{MEKK1/MAP3K1}\kin{MAPKd}{287}{579}{265}{607}{MAP3K4}\kin{MAPKh}{153}{712}{158}{690}{MAP3K8}\kin{MEKKb}{95}{762}{162}{763}{MEKK2/\\MAP3K2}\kin{MEKKc}{100}{802}{127}{838}{MEKK3/\\MAP3K3}\kin{MEKKf}{270}{795}{345}{820}{MEKK6/MAP3K6}\kin{MAPKg}{227}{893}{302}{895}{MAP3K7}\kav{ASK}{187}{895}{190}{930}{190}{930}{ASK1}
\jr{e0}{492}{200}\jn{e1}{420}{370}{e0}\lnk{MEKKa}{e1}\jn{e2}{340}{540}{e1}\lnk{MAPKd}{e2}\jn{e3}{310}{620}{e2}\jn{e4}{190}{735}{e3}\lnk{MEKKc}{e4}\bto{MEKKb}{150}{760}\bto{MAPKh}{210}{712}
\jr{e5}{300}{640}\jn{e6}{255}{740}{e5}\lnk{MEKKf}{e6}\lnk{ASK}{e6}\bto{MAPKg}{215}{840}
\kin{OSR}{333}{640}{323}{665}{OSR1}\kav{STLKc}{350}{680}{345}{703}{350}{712}{STLK3}\kin{STLKe}{424}{685}{433}{712}{STLK5}\kin{STLKf}{460}{652}{483}{683}{STLK6}
\jr{e7}{492}{370}\jn{e8}{425}{520}{e7}\jn{e9}{370}{640}{e8}\lnk{OSR}{e9}\lnk{STLKc}{e9}\lnk{STLKe}{e8}\bto{STLKf}{425}{600}
\kav{PAKd}{742}{947}{758}{980}{765}{980}{PAK4}\kin{PAKe}{767}{922}{825}{932}{PAK5}\kin{PAKf}{790}{899}{843}{899}{PAK6}\kin{PAKb}{643}{775}{660}{755}{PAK2}\kav{PAKa}{615}{820}{610}{845}{620}{840}{PAK1}\kav{PAKc}{645}{818}{695}{820}{693}{820}{PAK3}
\kin{TAOc}{583}{753}{590}{732}{TAO3}\kin{TAOb}{630}{863}{680}{870}{TAO2}\kav{TAOa}{612}{898}{622}{925}{630}{925}{TAO1}\kin{LOK}{551}{820}{565}{845}{LOK}\kav{SLK}{520}{825}{490}{845}{492}{845}{SLK}
\jr{e10}{492}{400}\jn{e11}{610}{680}{e10}\lnk{PAKa}{e11}\lnk{PAKc}{e11}\jn{e12}{640}{740}{e11}\lnk{PAKb}{e12}\jn{e13}{700}{830}{e12}\lnk{PAKf}{e13}\lnk{PAKd}{e13}\bto{PAKe}{720}{880}
\bto{TAOc}{540}{700}
\jr{e14}{492}{690}\jn{e15}{560}{800}{e14}\lnk{TAOa}{e15}\bto{TAOb}{580}{830}\bto{LOK}{510}{720}\bto{SLK}{500}{730}
\kin{MAPe}{585}{526}{610}{555}{MAP2K5}\kin{MAPg}{697}{576}{745}{601}{MAP2K7}\kin{SEK}{873}{562}{872}{541}{SEK1/MAP2K4}\kin{MKKf}{878}{607}{938}{593}{MKK6/MAP2K6}\kin{MKKc}{860}{635}{848}{658}{MKK3/MAP2K3}\kin{MEKb}{763}{710}{880}{717}{MEK2/MAP2K2}\kin{MEKa}{740}{741}{797}{770}{MEK1/MAP2K1}
\jr{e20}{492}{200}\jn{e21}{590}{400}{e20}\jn{e22}{685}{485}{e21}\lnk{MKKc}{e22}\lnk{MAPg}{e22}\bto{SEK}{780}{562}\bto{MKKf}{830}{590}\bto{MAPe}{608}{455}
\jn{e23}{730}{695}{e21}\lnk{MEKb}{e23}\lnk{MEKa}{e23}
\kav{HPK}{360}{943}{310}{955}{308}{945}{HPK1}\kin{GCK}{416}{998}{434}{1025}{GCK}\kav{KHSa}{352}{1050}{330}{1075}{330}{1075}{KHS1}\kin{KHSb}{395}{1050}{407}{1075}{KHS2}
\jr{e30}{492}{700}\jn{e31}{440}{860}{e30}\jn{e32}{405}{950}{e31}\lnk{HPK}{e32}\lnk{GCK}{e32}\lnk{KHSa}{e32}\bto{KHSb}{380}{990}
\kin{MSTc}{440}{1230}{425}{1255}{MST3}\kin{YSK}{411}{1215}{362}{1217}{YSK1}\kav{MSTa}{385}{1115}{340}{1120}{328}{1118}{MST1}\kin{MSTb}{408}{1140}{357}{1150}{MST2}\kin{MSTd}{465}{1147}{463}{1172}{MST4}\kav{MINK}{530}{1207}{585}{1205}{593}{1208}{MINK1}
\kav{TNIK}{530}{1105}{535}{1125}{565}{1137}{TNIK/ZC2}\kav{NRK}{530}{1030}{505}{1050}{507}{1052}{NRK/ZC4}\kav{MYOb}{600}{1042}{665}{1045}{670}{1045}{MYO3B}\kin{MYOa}{577}{1068}{645}{1077}{MYO3A}
\jr{e40}{492}{900}\jn{e41}{440}{1050}{e40}\lnk{MSTc}{e41}\lnk{MINK}{e41}\bto{MSTa}{440}{1100}\bto{MSTb}{420}{1090}\bto{MSTd}{440}{1090}\bto{YSK}{435}{1170}
\bto{NRK}{492}{870}\bto{TNIK}{492}{1000}\jr{e42}{492}{880}\jn{e43}{530}{1000}{e42}\lnk{MYOb}{e43}\bto{MYOa}{545}{1040}
\def\curcol{cck}
\kin{CKAb}{1075}{875}{1090}{908}{CK1α2}\bto{CKAb}{1075}{-21}
\kin{VRKa}{1272}{778}{1326}{782}{VRK1}\kin{VRKc}{1124}{571}{1140}{600}{VRK3}\kav{VRKb}{1278}{723}{1315}{722}{1332}{725}{VRK2}
\jr{f1}{1075}{310}\jn{f2}{1145}{510}{f1}\lnk{VRKa}{f2}\lnk{VRKc}{f2}\bto{VRKb}{1240}{705}
\kin{CKGc}{1198}{757}{1215}{738}{CK1γ3}\kin{CKGb}{1104}{731}{1105}{758}{CK1γ2}\kav{CKGa}{1180}{785}{1190}{817}{1193}{817}{CK1γ1}
\jr{f3}{1075}{520}\jn{f4}{1125}{670}{f3}\lnk{CKGc}{f4}\lnk{CKGb}{f4}\lnk{CKGa}{f4}
\kin{TTBa}{978}{649}{1030}{650}{TTBK1}\kin{TTBb}{1013}{681}{1030}{705}{TTBK2}\jn{f5}{1045}{625}{f3}\lnk{TTBa}{f5}\lnk{TTBb}{f5}
\kin{CKd}{955}{812}{900}{817}{CK1δ}\kav{CKe}{985}{848}{955}{850}{932}{850}{CK1ε}\kav{CKa}{1028}{860}{1000}{885}{1003}{885}{CK1α}
\jr{f6}{1075}{740}\jn{f7}{1020}{800}{f6}\lnk{CKd}{f7}\lnk{CKe}{f7}\bto{CKa}{1075}{800}
\end{scope}
\begin{scope}[crop={1130}{470}{.17857}{.16667}]
\def\curcol{cgr}
\kin{PLKc}{150}{605}{100}{607}{PLK3}\kav{PLKa}{200}{497}{225}{478}{232}{478}{PLK1}\kin{PLKb}{195}{603}{205}{630}{PLK2}\kin{PLKd}{123}{240}{122}{267}{PLK4}
\bto{PLKc}{150}{-50}\bto{PLKd}{150}{165}\bto{PLKa}{150}{370}\bto{PLKb}{150}{495}
\kin{TLKa}{235}{80}{280}{85}{TLK1}\kin{TLKb}{207}{147}{252}{150}{TLK2}\bto{TLKb}{207}{-50}\bto{TLKa}{207}{45}
\kin{YANKc}{932}{578}{943}{605}{YANK3}\kin{YANKa}{857}{505}{835}{490}{YANK1}\kin{YANKb}{888}{566}{875}{543}{YANK2}
\bto{YANKc}{930}{40}\jr{h1}{930}{405}\jn{h2}{875}{480}{h1}\lnk{YANKa}{h2}\bto{YANKb}{930}{520}
\kav{AurA}{1033}{291}{1118}{292}{1118}{295}{AurA/Aur2}\kav{AurB}{990}{400}{1005}{430}{1005}{432}{AurB/Aur1}\kin{AurC}{1033}{398}{1118}{401}{AurC/Aur3}
\bto{AurB}{990}{40}\bto{AurA}{990}{235}\bto{AurC}{990}{345}
\def\curcol{cbr}
\jr{k00}{1295}{40}\kav{CHKb}{1266}{125}{1265}{152}{1268}{155}{CHK2}\bto{CHKb}{1266}{40}
\kin{DCa}{1295}{330}{1275}{357}{DCAMKL1}\kin{DCc}{1327}{230}{1300}{253}{DCAMKL3}\kin{DCb}{1327}{315}{1300}{296}{DCAMKL2}\lnk{DCa}{k00}\bto{DCc}{1295}{190}\bto{DCb}{1295}{250}
\kin{PSKa}{1355}{332}{1397}{357}{PSKH1}\kin{PSKb}{1387}{315}{1443}{317}{PSKH2}\bto{PSKa}{1355}{40}\bto{PSKb}{1355}{240}
\krot{VAC}{1392}{138}{1392}{215}{-90}{VACAMKL}\krop{CaMKab}{1418}{138}{1418}{225}{-90}{CaMK1β}
\krot{CaMKd}{1450}{138}{1450}{210}{-90}{CaMK4}\krot{CaMKag}{1480}{135}{1482}{210}{-90}{CaMK1γ}\dia{dCaMa}{1440}{205}\dia{dCaMb}{1480}{165}
\bto{VAC}{1392}{40}\bto{CaMKab}{1418}{40}\bto{CaMKd}{1450}{40}\bto{CaMKag}{1480}{40}
\kin{CaMKaa}{1525}{132}{1588}{135}{CaMK1α}\kin{CaMKad}{1555}{88}{1624}{85}{CaMK1δ}\bto{CaMKaa}{1525}{40}\lnk{CaMKad}{bd}
\def\curcol{cag}
\jr{a0}{522}{0}
\kin{SgKdg}{460}{433}{395}{438}{SgK494}\bto{SgKdg}{522}{350}
\kin{BARKa}{343}{538}{355}{518}{BARK1/GRK2}\kav{BARKb}{340}{590}{315}{570}{320}{570}{BARK2/GRK3}\kin{GRKg}{328}{623}{285}{625}{GRK7}\kop{PDK}{475}{548}{485}{578}{483}{580}{PDK1}
\kin{GRKd}{158}{905}{112}{905}{GRK4}\kin{GRKe}{150}{843}{105}{845}{GRK5}\kin{RHO}{235}{733}{240}{710}{RHODK/GRK1}\kin{GRKf}{271}{808}{300}{785}{GRK6}
\jr{a1}{522}{445}\jn{a2}{480}{510}{a1}\lnk{PDK}{a2}\jn{a3}{390}{610}{a2}\lnk{GRKd}{a3}\bto{BARKa}{400}{555}\bto{BARKb}{410}{560}\bto{GRKg}{385}{615}\bto{RHO}{295}{720}\bto{GRKe}{205}{830}\bto{GRKf}{300}{730}
\kav{MSKb}{400}{760}{390}{715}{395}{715}{MSK2}\kav{MSKa}{390}{735}{390}{785}{395}{785}{MSK1}\kop{SKa}{397}{825}{445}{825}{460}{827}{p70S6K}\kav{SKb}{417}{862}{430}{890}{435}{893}{p70S6Kβ}
\kin{RSKLa}{270}{862}{250}{892}{RSKL1}\kin{RSKLb}{302}{868}{330}{852}{RSKL2}\kin{RSKc}{321}{936}{370}{940}{RSK3}\kin{RSKd}{285}{982}{330}{987}{RSK4}\kav{RSKa}{213}{1023}{180}{1005}{190}{1005}{RSK1/p90RSK}\kop{RSKb}{253}{1050}{250}{1065}{250}{1075}{RSK2}
\jr{a4}{515}{550}\jn{a5}{330}{790}{a4}\lnk{RSKLa}{a5}\lnk{RSKLb}{a5}
\jr{a6}{522}{640}\jn{a7}{455}{730}{a6}\lnk{MSKb}{a7}\lnk{MSKa}{a7}\jn{a8}{320}{890}{a7}\lnk{RSKa}{a8}\lnk{RSKc}{a8}\bto{RSKd}{285}{935}\bto{RSKb}{250}{975}
\bto{SKa}{420}{800}\bto{SKb}{430}{780}
\kav{Akta}{310}{1105}{205}{1180}{215}{1180}{Akt1/PKBα}\kav{Aktb}{247}{1140}{160}{1145}{165}{1145}{Akt2/PKBβ}\kop{Aktc}{278}{1142}{280}{1115}{290}{1122}{Akt3/PKBγ}\kop{SGKa}{327}{1175}{310}{1205}{313}{1205}{SGK1}\kin{SGKb}{367}{1132}{397}{1158}{SGK2}\kin{SGKc}{345}{1175}{397}{1190}{SGK3}
\jr{a10}{522}{770}\jn{a11}{390}{960}{a10}\jn{a12}{345}{1070}{a11}\lnk{Akta}{a12}\lnk{Aktb}{a12}\lnk{Aktc}{a12}\lnk{SGKb}{a12}\lnk{SGKa}{a12}\lnk{SGKc}{a12}
\kin{PKNa}{440}{1103}{448}{1075}{PKN1/PRK1}\kin{PKNb}{448}{1138}{448}{1118}{PKN2/PRK2}\kin{PKNc}{473}{1152}{480}{1178}{PKN3}
\jr{a13}{522}{1110}\jn{a14}{480}{1075}{a13}\lnk{PKNa}{a14}\lnk{PKNb}{a14}\bto{PKNc}{490}{1090}
\kop{PKCz}{570}{1018}{590}{1025}{612}{1027}{PKCζ}\kav{PKCi}{525}{1040}{560}{1050}{572}{1050}{PKCι}\kav{PKCd}{573}{1093}{600}{1095}{620}{1100}{PKCδ}\kop{PKCe}{545}{1090}{530}{1110}{548}{1120}{PKCε}
\kav{PKCh}{457}{1222}{430}{1225}{405}{1225}{PKCη}\kav{PKCt}{483}{1240}{460}{1255}{445}{1255}{PKCθ}\kav{PKCg}{490}{1280}{475}{1300}{470}{1305}{PKCγ}\kopn{PKCb}{553}{1325}{600}{1328}{PKCβ}\kop{PKCa}{522}{1345}{520}{1375}{530}{1375}{PKCα}
\lnk{PKCa}{a0}\bto{PKCz}{522}{965}\bto{PKCe}{522}{1040}\bto{PKCd}{522}{1050}\bto{PKCh}{522}{1180}\bto{PKCt}{522}{1200}\bto{PKCg}{522}{1240}\bto{PKCb}{522}{1280}
\kin{PKGb}{540}{825}{557}{800}{PKG2}\kav{PKGa}{558}{857}{575}{885}{575}{887}{PKG1}\jr{a15}{522}{770}\jn{a16}{585}{780}{a15}\lnk{PKGb}{a16}\lnk{PKGa}{a16}
\kin{PRKY}{573}{965}{570}{945}{PRKY}\kin{PRKX}{595}{985}{640}{985}{PRKX}\kin{PKAg}{706}{1000}{725}{1028}{PKAγ}\kav{PKAa}{675}{1078}{655}{1065}{650}{1062}{PKAα}\kin{PKAb}{710}{1078}{733}{1100}{PKAβ}
\jr{a17}{522}{630}\jn{a18}{610}{850}{a17}\lnk{PKAb}{a18}\bto{PRKX}{620}{900}\bto{PRKY}{610}{890}\bto{PKAa}{640}{930}\bto{PKAg}{640}{940}
\kin{LATSa}{585}{675}{565}{652}{LATS1}\kin{LATSb}{610}{697}{560}{702}{LATS2}\kin{NDRa}{638}{695}{650}{720}{NDR1}\kin{NDRb}{664}{688}{708}{680}{NDR2}
\jr{a19}{650}{555}\jn{a20}{630}{625}{a19}\lnk{LATSa}{a20}\lnk{LATSb}{a20}\lnk{NDRa}{a20}\lnk{NDRb}{a19}
\kin{MASTl}{790}{564}{775}{537}{MASTL}\kin{MASTb}{897}{667}{895}{652}{MAST2}\kin{MASTc}{806}{662}{810}{690}{MAST3}\kin{MASTd}{968}{737}{985}{716}{MAST4}\kin{MASTa}{958}{769}{1018}{775}{MAST1}
\jr{a21}{525}{230}\jn{a22}{605}{425}{a21}\jn{a23}{745}{555}{a22}\lnk{MASTa}{a23}\lnk{MASTl}{a23}\bto{MASTc}{800}{620}\bto{MASTb}{855}{665}\bto{MASTd}{930}{735}
\kav{MRCa}{888}{1118}{912}{1145}{920}{1145}{MRCKα}\kin{MRCb}{850}{1105}{832}{1085}{MRCKβ}\kin{DMPK}{775}{925}{782}{907}{DMPK}\kin{DMPKb}{808}{1000}{810}{977}{DMPK2}\kin{CRIK}{793}{818}{803}{795}{CRIK}\kop{ROCKa}{682}{913}{683}{890}{682}{890}{ROCK1}\kav{ROCKb}{708}{933}{705}{950}{708}{957}{ROCK2}
\jn{a24}{650}{555}{a22}\jn{a25}{750}{790}{a24}\lnk{MRCa}{a25}\lnk{CRIK}{a25}\lnk{ROCKb}{a25}\bto{ROCKa}{720}{880}\bto{DMPK}{765}{870}\bto{DMPKb}{795}{950}\bto{MRCb}{835}{1045}
\end{scope}
\begin{scope}[crop={40}{750}{.16667}{.16667}]
\def\curcol{cat}
\kin{SMG}{667}{85}{670}{60}{SMG1}\kin{ATM}{577}{125}{568}{102}{ATM}\kin{PCBa}{205}{181}{217}{157}{PI3KC2α}\kin{PCBb}{197}{208}{130}{205}{PI3KC2β}\kin{PCBg}{151}{237}{137}{265}{PI3KC2γ}
\kav{PCg}{303}{292}{290}{295}{255}{293}{PI3KCγ}\kav{PCa}{375}{318}{375}{345}{375}{343}{PI3KCα}\kin{PIb}{143}{323}{103}{325}{PI4B}\kin{PIap}{192}{344}{120}{350}{PI4KAP2}\kin{PIa}{222}{362}{175}{373}{PI4KA}\kin{PCd}{271}{348}{250}{325}{PI3KCδ}\kav{PCb}{267}{378}{250}{393}{215}{400}{PI3KCβ}\kin{PCc}{283}{411}{248}{433}{PI3KC3}
\kin{mTOR}{302}{464}{250}{470}{mTOR}\kin{PKba}{398}{417}{392}{393}{PI4K2A}\kin{PKbb}{400}{447}{380}{467}{PI4K2B}\kav{DNA}{413}{500}{395}{530}{375}{527}{DNAPK}\kin{TRRAP}{517}{507}{502}{532}{TRRAP}\kin{ATR}{545}{304}{545}{333}{ATR}
\jr{x0}{620}{125}\lnk{SMG}{x0}\lnk{ATM}{x0}\jn{x1}{380}{232}{x0}\jn{x2}{260}{240}{x1}\lnk{PCBa}{x2}\lnk{PCBb}{x2}\lnk{PCBg}{x2}
\jn{x3}{490}{280}{x0}\lnk{mTOR}{x3}\bto{ATR}{550}{210}\jn{x4}{440}{420}{x3}\lnk{DNA}{x4}\jr{x5}{465}{370}\lnk{TRRAP}{x5}\bto{PKba}{445}{390}\bto{PKbb}{445}{405}
\jr{x6}{375}{235}\jn{x7}{360}{270}{x6}\lnk{PCg}{x7}\lnk{PCa}{x7}\lnk{PCc}{x7}\bto{PCd}{330}{330}\bto{PCb}{320}{350}
\jr{x8}{255}{285}\jn{x9}{210}{300}{x8}\lnk{PIb}{x9}\lnk{PIap}{x9}\lnk{PIa}{x9}
\dia{legendD}{830}{582}
\ifnum\pno=2 \node[klab,font=\bfseries\fontsize{6.6}{7}\selectfont] (legendL) at (1092,585) {Available Kinases};\fi
\end{scope}
}
\begin{document}
\begin{tikzpicture}[x=.5pt,y=-.5pt]
\useasboundingbox (0,0) rectangle (1728,955);
\fill[white] (0,0) rectangle (1728,955);
\node[wmark] (wTK) at (40,307) {TK};
\node[wmark] (wCMGC) at (420,197) {CMGC};
\node[wmark] (wCAMK) at (1200,187) {CAMK};
\node[wmark] (wTKL) at (310,855) {TKL};
\node[wmark] (wSTE) at (712,905) {STE};
\node[wmark] (wCK) at (950,860) {CK1};
\node[wmark] (wAGC) at (1405,870) {AGC};
\node[wmark,font=\bfseries\fontsize{26}{28}\selectfont] (wAT) at (60,800) {ATYPICAL};
\def\pno{1}\alldata
\def\pno{2}\alldata
\def\pno{3}\alldata
\end{tikzpicture}
\end{document}
